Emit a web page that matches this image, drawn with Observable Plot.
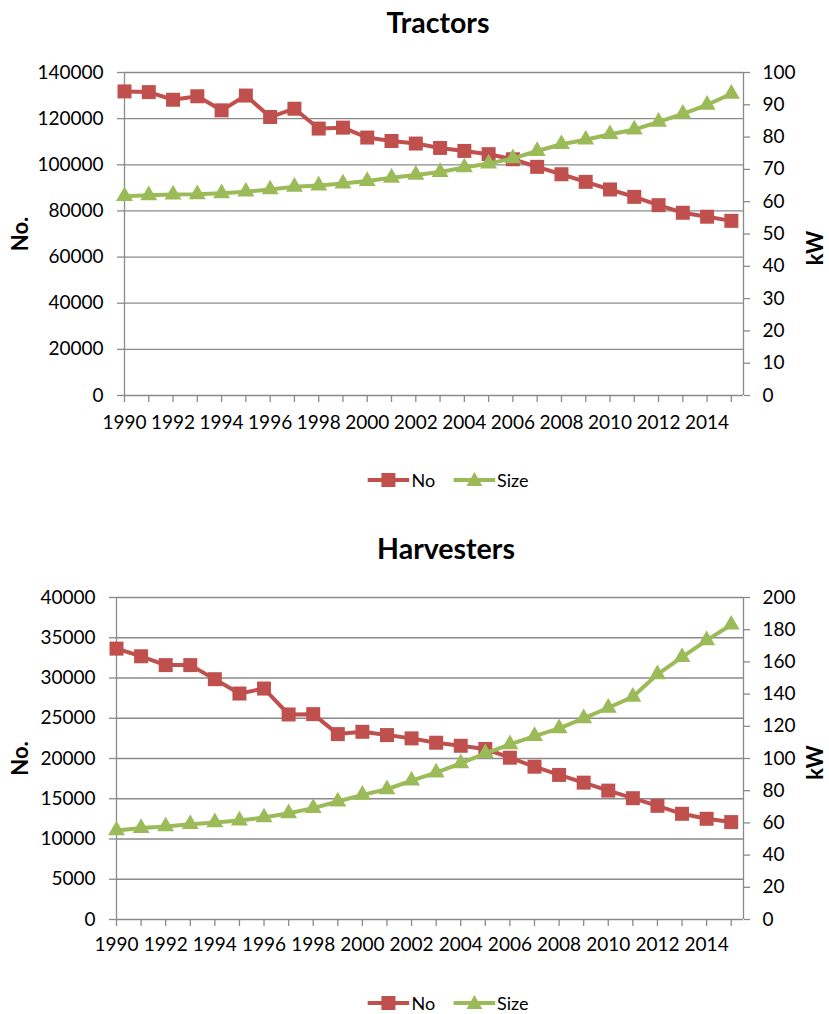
<!DOCTYPE html>
<html>
<head>
<meta charset="utf-8">
<script src="https://cdn.jsdelivr.net/npm/d3@7"></script>
<script src="https://cdn.jsdelivr.net/npm/@observablehq/plot@0.6"></script>
<style>
  html, body { margin: 0; padding: 0; background: #fff; }
  body { width: 829px; height: 1014px; position: relative; font-family: Lato, "Open Sans", sans-serif; overflow: hidden; }
  .title { position: absolute; transform: translate(-50%, -50%); font-weight: bold; font-size: 28.5px; white-space: nowrap; color: #000; }
  .chart { position: absolute; left: 0; }
  .legend { position: absolute; transform: translate(-50%, -50%); display: flex; align-items: center; font-size: 18px; color: #000; white-space: nowrap; }
  .legend svg { display: block; }
  .legend span { margin-left: 2px; margin-right: 18px; }
  .legend span:last-child { margin-right: 0; }
</style>
</head>
<body>
<script>
// ---- data ----
const years = [1990, 1991, 1992, 1993, 1994, 1995, 1996, 1997, 1998, 1999, 2000, 2001, 2002,
               2003, 2004, 2005, 2006, 2007, 2008, 2009, 2010, 2011, 2012, 2013, 2014, 2015];
const yearLabels = [1990, 1992, 1994, 1996, 1998, 2000, 2002, 2004, 2006, 2008, 2010, 2012, 2014];

const tractorsNo = [131800, 131500, 128200, 129700, 123600, 130000, 120700, 124300, 115700, 116100,
                    111800, 110300, 109200, 107300, 106000, 104600, 102400, 99100, 95900, 92600,
                    89300, 86100, 82500, 79200, 77500, 75700];
const tractorsSize = [61.7, 62.0, 62.2, 62.3, 62.6, 63.1, 63.8, 64.6, 65.0, 65.6, 66.4, 67.4, 68.3,
                      69.2, 70.6, 71.8, 73.4, 75.7, 77.8, 79.2, 80.9, 82.3, 84.7, 87.2, 90.0, 93.4];
const tractorsNoTicks = [0, 20000, 40000, 60000, 80000, 100000, 120000, 140000];
const tractorsKwTicks = [0, 10, 20, 30, 40, 50, 60, 70, 80, 90, 100];

const harvestersNo = [33650, 32700, 31600, 31600, 29850, 28070, 28690, 25470, 25510, 23030, 23320,
                      22910, 22500, 21960, 21580, 21180, 20100, 18980, 17960, 17000, 16010, 15070,
                      14120, 13130, 12510, 12100];
const harvestersSize = [55.3, 56.8, 57.8, 59.2, 60.3, 61.5, 63.4, 66.0, 69.2, 73.3, 77.4, 80.9, 86.3,
                        91.2, 97.0, 103.2, 108.8, 113.9, 118.7, 124.9, 131.5, 138.3, 152.3, 163.0,
                        173.4, 183.1];
const harvestersNoTicks = [0, 5000, 10000, 15000, 20000, 25000, 30000, 35000, 40000];
const harvestersKwTicks = [0, 20, 40, 60, 80, 100, 120, 140, 160, 180, 200];

const seriesNames = ["No", "Size"];
const RED = "#C0504D", GREEN = "#9BBB59", GRID = "#8a8a8a";

function addAbs(el, cls, left, top) {
  el.classList.add(cls);
  el.style.left = left + "px";
  el.style.top = top + "px";
  document.body.appendChild(el);
  return el;
}

function makeTitle(text, cx, cy) {
  const d = document.createElement("div");
  d.textContent = text;
  return addAbs(d, "title", cx, cy);
}

function makeLegend(cx, cy) {
  const d = document.createElement("div");
  d.innerHTML =
    `<svg width="42" height="18"><line x1="0" x2="42" y1="9" y2="9" stroke="${RED}" stroke-width="4"/>` +
    `<rect x="14" y="2" width="14" height="14" fill="${RED}"/></svg><span>${seriesNames[0]}</span>` +
    `<svg width="42" height="18"><line x1="0" x2="42" y1="9" y2="9" stroke="${GREEN}" stroke-width="4"/>` +
    `<path d="M21,1 L29,15 L13,15 Z" fill="${GREEN}"/></svg><span>${seriesNames[1]}</span>`;
  return addAbs(d, "legend", cx, cy);
}

function makeChart({no, size, noTicks, kwTicks, marginLeft, plotHeight, xPad, top, kwDy}) {
  const yMax = noTicks[noTicks.length - 1];
  const kMax = kwTicks[kwTicks.length - 1];
  const k = yMax / kMax;
  const data = years.map((year, i) => ({year, no: no[i], size: size[i] * k}));
  const xMax = 2015.5;
  const svg = Plot.plot({
    width: 829,
    height: 27 + plotHeight + 45,
    marginTop: 27,
    marginBottom: 45,
    marginLeft,
    marginRight: 86,
    style: {fontFamily: "Lato, 'Open Sans', sans-serif", fontSize: "19px", color: "#000", background: "#fff", overflow: "visible"},
    x: {domain: [1990, xMax], axis: null},
    y: {domain: [0, yMax], axis: null},
    marks: [
      Plot.gridY(noTicks, {stroke: GRID, strokeOpacity: 1, strokeWidth: 1.3}),
      Plot.ruleX([1990, xMax], {stroke: GRID, strokeWidth: 1.3}),
      Plot.axisY(noTicks, {anchor: "left", tickSize: 7, tickPadding: 14, stroke: GRID, strokeWidth: 1.3,
                          tickFormat: d => String(d), label: null}),
      Plot.axisY(kwTicks.map(v => v * k), {anchor: "right", tickSize: 6, tickPadding: 13, stroke: GRID, strokeWidth: 1.3,
                          tickFormat: d => String(Math.round(d / k)), label: null}),
      Plot.axisX(years, {anchor: "bottom", tickSize: 7, tickPadding: xPad, stroke: GRID, strokeWidth: 1.3,
                          tickFormat: d => yearLabels.includes(d) ? String(d) : "", label: null}),
      Plot.text(["No."], {frameAnchor: "left", textAnchor: "middle", rotate: -90, dx: 20 - marginLeft, fontWeight: "bold", fontSize: 22}),
      Plot.text(["kW"], {frameAnchor: "right", textAnchor: "middle", rotate: -90, dx: 72, dy: kwDy, fontWeight: "bold", fontSize: 22}),
      Plot.line(data, {x: "year", y: "no", stroke: RED, strokeWidth: 4}),
      Plot.dot(data, {x: "year", y: "no", symbol: "square", r: 7.9, fill: RED, stroke: null}),
      Plot.line(data, {x: "year", y: "size", stroke: GREEN, strokeWidth: 4}),
      Plot.dot(data, {x: "year", y: "size", symbol: "triangle", r: 6.3, fill: GREEN, stroke: null})
    ]
  });
  return addAbs(svg, "chart", 0, top);
}

makeTitle("Tractors", 438, 22);
makeChart({no: tractorsNo, size: tractorsSize, noTicks: tractorsNoTicks, kwTicks: tractorsKwTicks,
           marginLeft: 124, plotHeight: 323, xPad: 13, top: 45, kwDy: 14});
makeLegend(448, 480);

makeTitle("Harvesters", 446, 548);
makeChart({no: harvestersNo, size: harvestersSize, noTicks: harvestersNoTicks, kwTicks: harvestersKwTicks,
           marginLeft: 116, plotHeight: 322, xPad: 11, top: 570, kwDy: 4});
makeLegend(448, 1003);
</script>
</body>
</html>
